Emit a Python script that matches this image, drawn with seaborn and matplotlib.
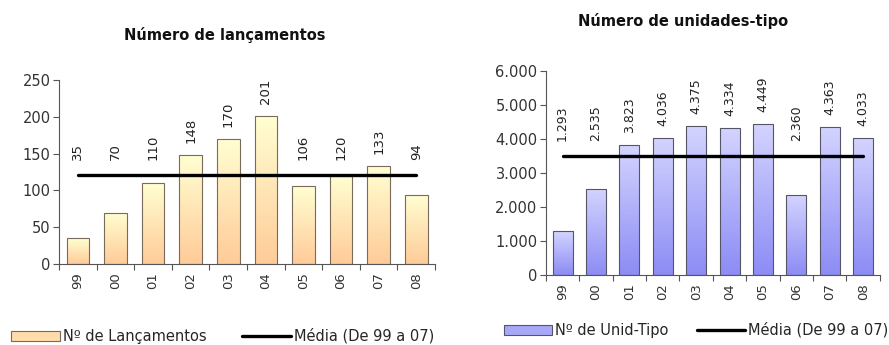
import numpy as np
import pandas as pd
import matplotlib.pyplot as plt
import seaborn as sns
from matplotlib.colors import LinearSegmentedColormap
from matplotlib.patches import Patch
from matplotlib.lines import Line2D

anos = ["99", "00", "01", "02", "03", "04", "05", "06", "07", "08"]
lancamentos = [35, 70, 110, 148, 170, 201, 106, 120, 133, 94]
unidades = [1293, 2535, 3823, 4036, 4375, 4334, 4449, 2360, 4363, 4033]

media_lanc = np.mean(lancamentos[:9])
media_unid = np.mean(unidades[:9])

sns.set_theme(style="white")
plt.rcParams["font.family"] = ["DejaVu Sans"]

fig = plt.figure(figsize=(8.89, 3.45), dpi=100)
ax1 = fig.add_axes([0.0664, 0.2348, 0.423, 0.533])
ax2 = fig.add_axes([0.614, 0.2029, 0.3757, 0.5913])


def fmt_pt(v):
    return f"{int(v):,}".replace(",", ".")


def desenha(ax, valores, media, cor_topo, cor_base, borda, ymax, ystep,
            min_lbl, off_lbl, fmt, fs_lbl):
    df = pd.DataFrame({"ano": anos, "valor": valores})
    sns.barplot(data=df, x="ano", y="valor", ax=ax, width=0.6,
                color=cor_base, edgecolor=borda, linewidth=0.8, saturation=1)
    cmap = LinearSegmentedColormap.from_list("g", [cor_base, cor_topo])
    grad = np.linspace(0, 1, 256).reshape(-1, 1)
    for p in ax.patches:
        x0, y0 = p.get_x(), p.get_y()
        w, h = p.get_width(), p.get_height()
        im = ax.imshow(grad, cmap=cmap, origin="lower", aspect="auto",
                       extent=[x0, x0 + w, y0, y0 + h], zorder=p.get_zorder())
        im.set_clip_path(p)
        p.set_facecolor("none")
        p.set_zorder(im.get_zorder() + 0.1)

    ax.plot([0, len(anos) - 1], [media, media], color="black", lw=2.4, zorder=5)

    for i, v in enumerate(valores):
        y = max(v + off_lbl, min_lbl)
        ax.text(i, y, fmt(v), rotation=90, ha="center", va="bottom",
                fontsize=fs_lbl, color="#222222")

    ax.set_xlim(-0.5, len(anos) - 0.5)
    ax.set_ylim(0, ymax)
    ax.set_yticks(np.arange(0, ymax + 1, ystep))
    ax.set_yticklabels([fmt(t) for t in np.arange(0, ymax + 1, ystep)],
                       fontsize=10.5, color="#333333")
    ax.set_xticks(np.arange(-0.5, len(anos), 1))
    ax.set_xticklabels([])
    ax.set_xticks(range(len(anos)), minor=True)
    ax.set_xticklabels(anos, minor=True, rotation=90, fontsize=9.5, color="#333333")
    ax.tick_params(axis="x", which="major", length=4, width=0.8, color="#555555",
                   direction="out", bottom=True)
    ax.tick_params(axis="x", which="minor", length=0, pad=6, bottom=True)
    ax.tick_params(axis="y", length=4, width=0.8, color="#555555",
                   direction="out", left=True, pad=2)
    ax.set_xlabel("")
    ax.set_ylabel("")
    for s in ["top", "right"]:
        ax.spines[s].set_visible(False)
    for s in ["left", "bottom"]:
        ax.spines[s].set_color("#555555")
        ax.spines[s].set_linewidth(0.8)


desenha(ax1, lancamentos, media_lanc, "#FFFFD2", "#FFCB98", "#7A6A5A",
        250, 50, 142, 16, lambda v: str(int(v)), 9.5)
desenha(ax2, unidades, media_unid, "#D4D4FF", "#8C8CF5", "#555566",
        6000, 1000, 3950, 350, fmt_pt, 9)

fig.text(0.253, 0.899, "Número de lançamentos", ha="center", va="center",
         fontsize=10.5, fontweight="bold", color="#111111")
fig.text(0.768, 0.939, "Número de unidades-tipo", ha="center", va="center",
         fontsize=10.5, fontweight="bold", color="#111111")

leg1 = [Patch(facecolor="#FFDCAA", edgecolor="#7A6A5A", lw=0.8),
        Line2D([0], [0], color="black", lw=2.4)]
fig.legend(leg1, ["Nº de Lançamentos", "Média (De 99 a 07)"], ncol=2,
           loc="center", bbox_to_anchor=(0.2505, 0.026), frameon=False,
           fontsize=10.5, handlelength=3.4, handletextpad=0.2, columnspacing=2.4)
leg2 = [Patch(facecolor="#A8A8F8", edgecolor="#555566", lw=0.8),
        Line2D([0], [0], color="black", lw=2.4)]
fig.legend(leg2, ["Nº de Unid-Tipo", "Média (De 99 a 07)"], ncol=2,
           loc="center", bbox_to_anchor=(0.783, 0.043), frameon=False,
           fontsize=10.5, handlelength=3.3, handletextpad=0.2, columnspacing=2.0)

plt.savefig("out.png", dpi=100, facecolor="white")
